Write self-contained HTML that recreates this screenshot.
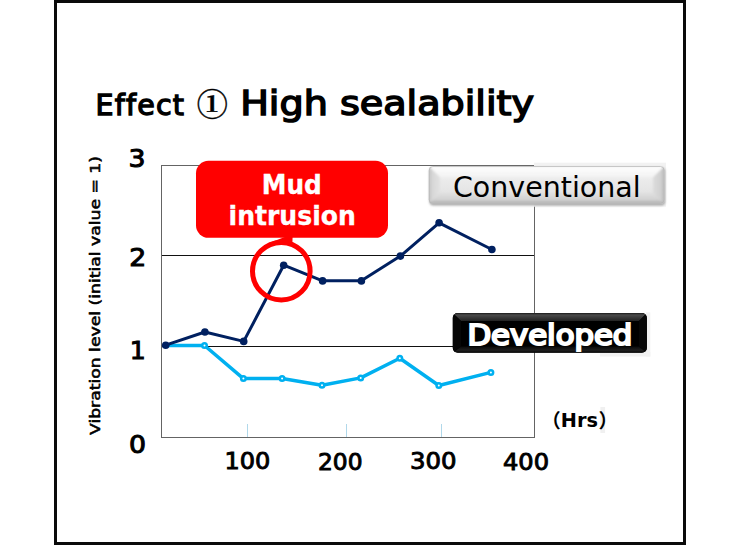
<!DOCTYPE html>
<html>
<head>
<meta charset="utf-8">
<style>
html,body{margin:0;padding:0;background:#fff;width:739px;height:545px;overflow:hidden}
svg{display:block}
text{font-variant-ligatures:none;font-kerning:normal}
.c{font-family:"DejaVu Sans Condensed","Liberation Sans",sans-serif}
.n{font-family:"DejaVu Sans","Liberation Sans",sans-serif}
.j{font-family:"Liberation Serif","Noto Serif CJK SC",serif}
.h{font-family:"DejaVu Sans","Noto Sans CJK JP",sans-serif}
</style>
</head>
<body>
<svg width="739" height="545" viewBox="0 0 739 545">
<defs>
  <filter id="blur1" x="-5%" y="-20%" width="110%" height="140%"><feGaussianBlur stdDeviation="1"/></filter>
  <clipPath id="cvclip"><rect x="428.8" y="166" width="235.7" height="38" rx="4"/></clipPath>
  <clipPath id="dvclip"><rect x="452.7" y="313" width="194.2" height="39.8" rx="5"/></clipPath>
  <linearGradient id="cv" x1="0" y1="0" x2="0" y2="1">
    <stop offset="0" stop-color="#f4f4f4"/>
    <stop offset="0.5" stop-color="#e8e8e8"/>
    <stop offset="1" stop-color="#dedede"/>
  </linearGradient>
  <linearGradient id="cvt" x1="0" y1="0" x2="0" y2="1">
    <stop offset="0" stop-color="#e9e9e9"/>
    <stop offset="0.12" stop-color="#fdfdfd"/>
    <stop offset="1" stop-color="#f3f3f3"/>
  </linearGradient>
  <linearGradient id="cvb" x1="0" y1="0" x2="0" y2="1">
    <stop offset="0" stop-color="#e0e0e0"/>
    <stop offset="0.6" stop-color="#d2d2d2"/>
    <stop offset="1" stop-color="#a8a8a8"/>
  </linearGradient>
  <linearGradient id="cvl" x1="0" y1="0" x2="1" y2="0">
    <stop offset="0" stop-color="#b8b8b8"/>
    <stop offset="0.25" stop-color="#d6d6d6"/>
    <stop offset="1" stop-color="#e2e2e2"/>
  </linearGradient>
  <linearGradient id="cvr" x1="0" y1="0" x2="1" y2="0">
    <stop offset="0" stop-color="#dcdcdc"/>
    <stop offset="0.75" stop-color="#cfcfcf"/>
    <stop offset="1" stop-color="#a8a8a8"/>
  </linearGradient>
  <linearGradient id="dvt" x1="0" y1="0" x2="0" y2="1">
    <stop offset="0" stop-color="#1a1a1a"/>
    <stop offset="0.25" stop-color="#4a4a4a"/>
    <stop offset="1" stop-color="#222"/>
  </linearGradient>
  <linearGradient id="dvb" x1="0" y1="0" x2="0" y2="1">
    <stop offset="0" stop-color="#0a0a0a"/>
    <stop offset="0.6" stop-color="#1e1e1e"/>
    <stop offset="1" stop-color="#050505"/>
  </linearGradient>
  <filter id="blur06" x="-5%" y="-20%" width="110%" height="140%"><feGaussianBlur stdDeviation="0.8"/></filter>
</defs>
<rect x="0" y="0" width="739" height="545" fill="#fff"/>
<!-- frame -->
<rect x="55.5" y="1.5" width="629" height="542" fill="none" stroke="#0a0a0a" stroke-width="3"/>

<!-- title -->
<text class="n" x="95.4" y="115.2" font-size="28.5" fill="#000" stroke="#000" stroke-width="1.3" textLength="88.6" lengthAdjust="spacing">Effect</text>
<text class="j" transform="translate(196.7,114.6) scale(1,0.95)" font-size="31.1" font-weight="bold" fill="#000" stroke="#000" stroke-width="0.4">①</text>
<text class="n" x="240.2" y="114.9" font-size="34.2" fill="#000" stroke="#000" stroke-width="1.5" textLength="293.8" lengthAdjust="spacingAndGlyphs">High sealability</text>

<!-- plot area -->
<rect x="161.5" y="165.5" width="373" height="272" fill="none" stroke="#646464" stroke-width="1"/>
<line x1="162" y1="255.5" x2="534" y2="255.5" stroke="#111" stroke-width="1.1"/>
<line x1="162" y1="346.5" x2="534" y2="346.5" stroke="#111" stroke-width="1.1"/>
<g stroke="#b0d8ea" stroke-width="1">
  <line x1="247.5" y1="424" x2="247.5" y2="437"/>
  <line x1="346.5" y1="424" x2="346.5" y2="437"/>
  <line x1="441.5" y1="424" x2="441.5" y2="437"/>
</g>

<!-- y labels -->
<g class="n" font-size="25.3" fill="#000" stroke="#000" stroke-width="1.05">
  <text x="128.5" y="167.3" textLength="17" lengthAdjust="spacingAndGlyphs">3</text>
  <text x="129.2" y="266.3" textLength="17" lengthAdjust="spacingAndGlyphs">2</text>
  <text x="129.7" y="359" textLength="16" lengthAdjust="spacingAndGlyphs">1</text>
  <text x="129" y="453" textLength="17" lengthAdjust="spacingAndGlyphs">0</text>
</g>
<text class="n" transform="translate(100.1,435) rotate(-90)" font-size="14.9" fill="#000" stroke="#000" stroke-width="0.55" textLength="279" lengthAdjust="spacingAndGlyphs">Vibration level (initial value = 1)</text>

<rect x="600.4" y="407" width="4.7" height="26" fill="#f0f0f0"/>
<!-- x labels -->
<g class="n" font-size="22.1" fill="#000" stroke="#000" stroke-width="0.9">
  <text x="224.4" y="469" textLength="45.8" lengthAdjust="spacingAndGlyphs">100</text>
  <text x="318" y="469.5" textLength="44.5" lengthAdjust="spacingAndGlyphs">200</text>
  <text x="410" y="469.2" textLength="46.5" lengthAdjust="spacingAndGlyphs">300</text>
  <text x="503" y="469.6" textLength="46" lengthAdjust="spacingAndGlyphs">400</text>
</g>
<text class="h" x="541.5" y="427.5" font-size="19.3" font-weight="bold" fill="#000">（<tspan x="560.8" y="426.6">Hrs</tspan><tspan x="598.4" y="427.5">）</tspan></text>

<!-- series: developed (light blue) -->
<polyline fill="none" stroke="#00b0f0" stroke-width="3.5" stroke-linejoin="round"
  points="165.7,345.5 204.5,345.5 243.4,378.6 282.1,378.6 322,385.3 360.7,377.9 399.8,358.3 438.8,385.5 490.9,372.4"/>
<g fill="#fff" stroke="#00b0f0" stroke-width="2.5">
  <circle cx="204.5" cy="345.5" r="2.25"/>
  <circle cx="243.4" cy="378.6" r="2.25"/>
  <circle cx="282.1" cy="378.6" r="2.25"/>
  <circle cx="322" cy="385.3" r="2.25"/>
  <circle cx="360.7" cy="377.9" r="2.25"/>
  <circle cx="399.8" cy="358.3" r="2.25"/>
  <circle cx="438.8" cy="385.5" r="2.25"/>
  <circle cx="490.9" cy="372.4" r="2.25"/>
</g>

<!-- series: conventional (navy) -->
<polyline fill="none" stroke="#002060" stroke-width="3" stroke-linejoin="round"
  points="165.7,345.2 204.9,332 243.7,341.4 283.7,265.2 322.6,280.8 361.3,280.8 400.4,256.1 439.1,222.8 491.9,249.5"/>
<g fill="#002060">
  <circle cx="165.7" cy="345.2" r="3.8"/>
  <circle cx="204.9" cy="332" r="3.8"/>
  <circle cx="243.7" cy="341.4" r="3.8"/>
  <circle cx="283.7" cy="265.2" r="3.8"/>
  <circle cx="322.6" cy="280.9" r="3.8"/>
  <circle cx="361.4" cy="280.9" r="3.8"/>
  <circle cx="400.4" cy="256.1" r="3.8"/>
  <circle cx="439.1" cy="222.8" r="3.8"/>
  <circle cx="491.9" cy="249.5" r="3.8"/>
</g>

<!-- mud intrusion callout -->
<rect x="196" y="160.8" width="192" height="77" rx="12.5" fill="#ff0000"/>
<path d="M284.7 237 L292.6 237 L292.4 243 L268.5 243.2 Z" fill="#ff0000"/>
<circle cx="281.3" cy="271.2" r="28.8" fill="none" stroke="#ff0000" stroke-width="5"/>
<g class="c" font-size="26.6" font-weight="bold" fill="#fff" stroke="#fff" stroke-width="0.3" text-anchor="middle">
  <text x="291.8" y="194.2" textLength="60" lengthAdjust="spacingAndGlyphs">Mud</text>
  <text x="292.2" y="225.3" textLength="127.3" lengthAdjust="spacingAndGlyphs">intrusion</text>
</g>

<!-- conventional button -->
<rect x="534" y="162.7" width="132" height="44" fill="#f2f2f2"/>
<rect x="429.5" y="167.5" width="235.7" height="38" rx="4" fill="#a9a9a9" filter="url(#blur1)"/>
<rect x="428.8" y="166" width="235.7" height="38" rx="4" fill="url(#cv)"/>
<g clip-path="url(#cvclip)"><g filter="url(#blur06)">
  <polygon points="428.8,166 440,177 440,193 428.8,204" fill="url(#cvl)"/>
  <polygon points="664.5,166 653,177 653,193 664.5,204" fill="url(#cvr)"/>
  <polygon points="428.8,204 440,193 653,193 664.5,204" fill="url(#cvb)"/>
  <polygon points="428.8,166 664.5,166 653,177 440,177" fill="url(#cvt)"/>
</g></g>
<rect x="429.3" y="166.5" width="234.7" height="37" rx="3.6" fill="none" stroke="#b4b4b4" stroke-width="1" opacity="0.7"/>
<text class="n" x="453" y="196.5" font-size="28" fill="#000" textLength="187.6" lengthAdjust="spacingAndGlyphs">Conventional</text>

<!-- developed button -->
<rect x="600" y="352" width="50.3" height="4.5" fill="#f2f2f2"/>
<rect x="646" y="312.3" width="4.3" height="44.2" fill="#f2f2f2"/>
<rect x="452.7" y="313" width="194.2" height="39.8" rx="5" fill="#000"/>
<g clip-path="url(#dvclip)">
  <polygon points="452.7,313 646.9,313 639,321 461,321" fill="url(#dvt)"/>
  <polygon points="452.7,352.8 461,346.5 639,346.5 646.9,352.8" fill="url(#dvb)"/>
  <polygon points="452.7,313 461,321 461,346.5 452.7,352.8" fill="#070707"/>
  <polygon points="646.9,313 639,321 639,346.5 646.9,352.8" fill="#070707"/>
</g>
<text class="n" x="467.4" y="344.8" font-size="27.6" fill="#fff" stroke="#fff" stroke-width="2.1" textLength="165" lengthAdjust="spacingAndGlyphs">Developed</text>
</svg>
</body>
</html>
